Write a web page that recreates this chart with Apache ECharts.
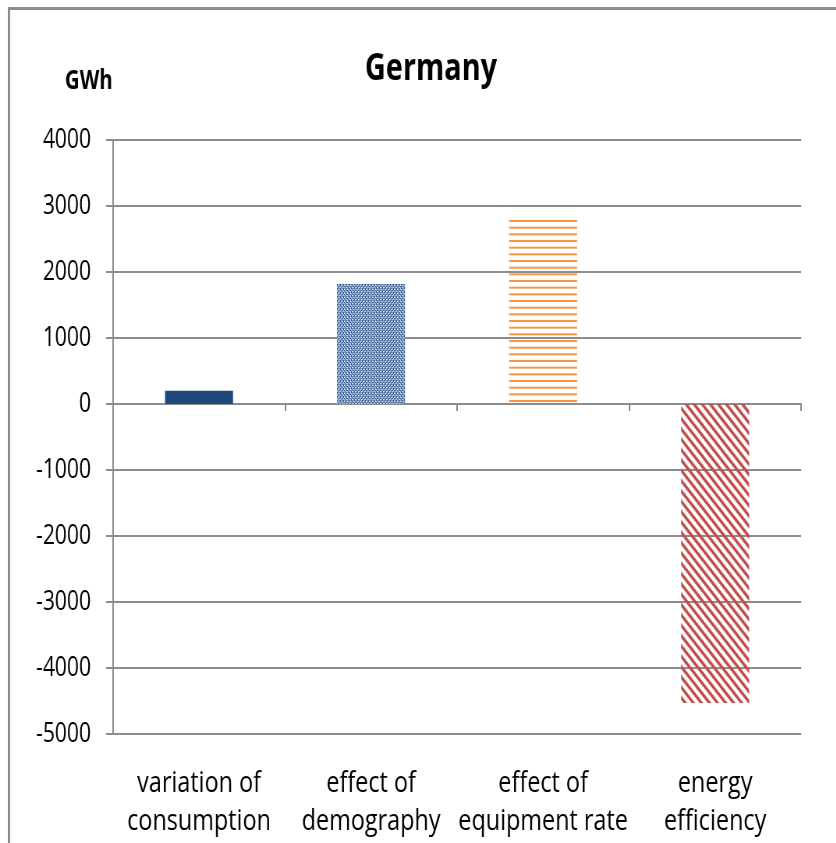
<!DOCTYPE html>
<html><head><meta charset="utf-8">
<script src="https://cdn.jsdelivr.net/npm/echarts@6/dist/echarts.min.js"></script>
<style>
html,body{margin:0;padding:0;background:#fff;overflow:hidden;width:836px;height:843px}
#wrap{width:836px;height:843px;overflow:hidden;position:relative}
#c{width:1072px;height:843px;transform:scaleX(0.78);transform-origin:0 0;position:absolute;left:0;top:0}
</style>
</head><body><div id="wrap"><div id="c"></div></div>
<script>
const categories = ['variation of\nconsumption', 'effect of\ndemography', 'effect of\nequipment rate', 'energy\nefficiency'];
const values = [200, 1820, 2800, -4530];
const yTicks = { min: -5000, max: 4000, interval: 1000 };
const titleText = 'Germany';
const unitText = 'GWh';

const FONT = "'Open Sans','Noto Sans',sans-serif";
const SX = 0.78; // horizontal squeeze of the whole picture (reference looks condensed)
const X = v => v / SX;

function mk(w, h, draw) { const c = document.createElement('canvas'); c.width = w; c.height = h; draw(c.getContext('2d')); return c; }
const dotPat = mk(4, 4, g => {
  g.fillStyle = '#9AAFD0'; g.fillRect(0, 0, 4, 4);
  g.fillStyle = '#35598F';
  g.fillRect(0, 0, 1, 1); g.fillRect(2, 0, 1, 1); g.fillRect(1, 2, 1, 1); g.fillRect(3, 2, 1, 1);
  g.fillRect(0, 1, 1, 1); g.fillRect(2, 3, 1, 1);
  g.fillStyle = '#E9EEF6';
  g.fillRect(1, 1, 1, 1); g.fillRect(3, 3, 1, 1);
});
const hPat = mk(20, 20, g => {
  g.fillStyle = '#F79646';
  for (let k = 0; k < 3; k++) { g.fillRect(0, k * 20 / 3, 20, 2); }
});
const dPat = mk(31, 31, g => {
  g.strokeStyle = '#C0504D'; g.lineWidth = 3.3;
  const p = 31 / 3;
  for (let k = -8; k <= 8; k++) {
    g.beginPath(); g.moveTo(k * p - 40, -40); g.lineTo(k * p + 40, 40); g.stroke();
  }
});
const fills = [
  '#1F497D',
  { image: dotPat, repeat: 'repeat' },
  { image: hPat, repeat: 'repeat' },
  { image: dPat, repeat: 'repeat' }
];

const chart = echarts.init(document.getElementById('c'), null, { renderer: 'canvas', width: 1072, height: 843 });
chart.setOption({
  animation: false,
  backgroundColor: '#fff',
  graphic: [
    { type: 'rect', shape: { x: X(9), y: 8.5, width: 1200, height: 900 }, style: { fill: null, stroke: '#8C8C8C', lineWidth: 3 }, silent: true },
    { type: 'text', x: X(431), y: 51, style: { text: titleText, font: "bold 37px " + FONT, fill: '#000', align: 'center', verticalAlign: 'top' } },
    { type: 'text', x: X(65), y: 69, style: { text: unitText, font: "bold 26px " + FONT, fill: '#000', align: 'left', verticalAlign: 'top' } }
  ],
  grid: { left: X(113), right: X(35), top: 140, bottom: 109, containLabel: false, outerBoundsMode: 'none' },
  xAxis: [
    {
      type: 'category', data: categories, position: 'bottom',
      axisLine: { onZero: true, lineStyle: { color: '#8C8C8C', width: 2 } },
      axisTick: { show: true, inside: false, length: 7, lineStyle: { color: '#8C8C8C', width: 2 } },
      axisLabel: { show: false }, splitLine: { show: false }
    },
    {
      type: 'category', data: categories, position: 'bottom',
      axisLine: { show: false, onZero: false }, axisTick: { show: false },
      axisLabel: { show: true, margin: 30, fontFamily: FONT, fontSize: 30, color: '#000', lineHeight: 38, interval: 0 },
      splitLine: { show: false }
    }
  ],
  yAxis: {
    type: 'value', min: yTicks.min, max: yTicks.max, interval: yTicks.interval,
    axisLine: { show: true, lineStyle: { color: '#8C8C8C', width: 2 } },
    axisTick: { show: true, inside: false, length: X(7), lineStyle: { color: '#8C8C8C', width: 2 } },
    axisLabel: { margin: X(22), fontFamily: FONT, fontSize: 27, color: '#000', formatter: v => String(v) },
    splitLine: { show: true, lineStyle: { color: '#8C8C8C', width: 2 } }
  },
  series: [{
    type: 'bar', xAxisIndex: 0, barWidth: X(68),
    data: values.map((v, i) => ({ value: v, itemStyle: { color: fills[i] } })),
    z: 3
  }]
});
</script></body></html>
